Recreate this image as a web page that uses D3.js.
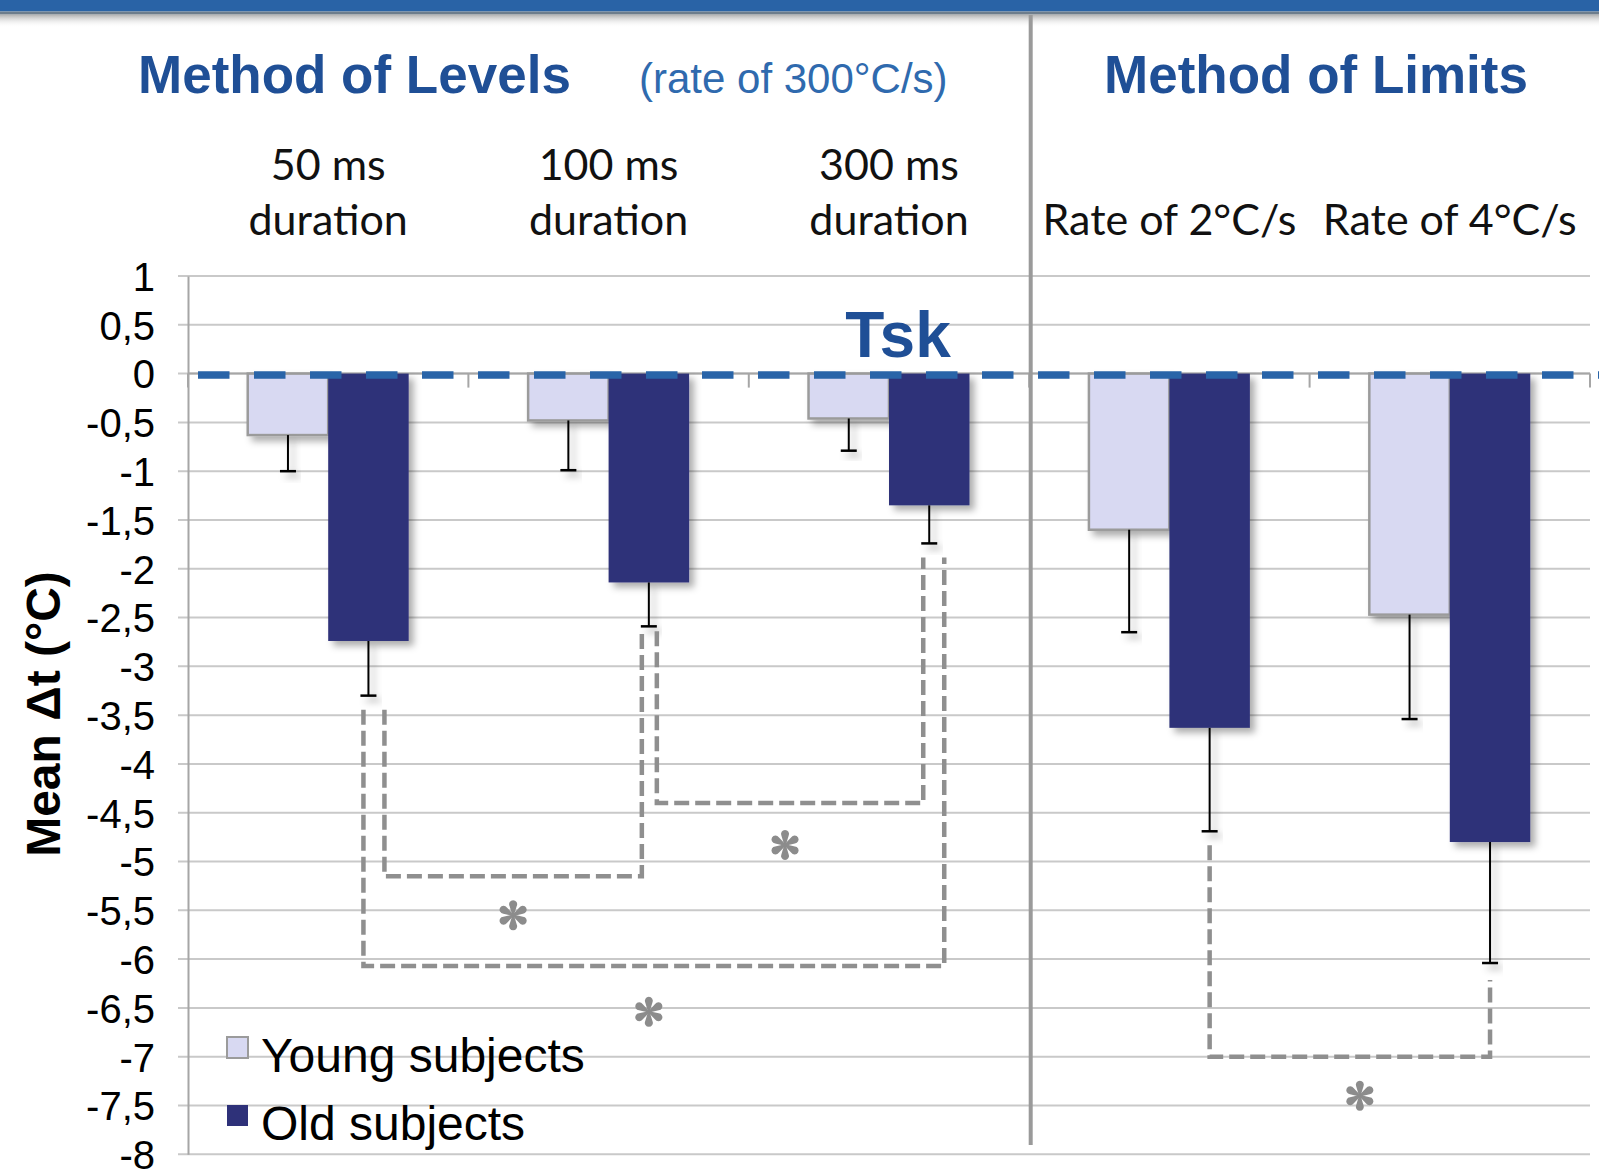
<!DOCTYPE html>
<html>
<head>
<meta charset="utf-8">
<script src="https://cdn.jsdelivr.net/npm/d3@7"></script>
<style>
  html, body { margin: 0; padding: 0; background: #fff; }
  svg { display: block; }
</style>
</head>
<body>
<svg id="chart" width="1599" height="1169"></svg>
<script>
// data
var categories = ["50 ms duration", "100 ms duration", "300 ms duration", "Rate of 2°C/s", "Rate of 4°C/s"];
var catLines = [["50 ms", "duration"], ["100 ms", "duration"], ["300 ms", "duration"], ["Rate of 2°C/s"], ["Rate of 4°C/s"]];
var series = ["Young subjects", "Old subjects"];
var youngMean = [-0.63, -0.48, -0.46, -1.60, -2.47];
var youngErr = [0.37, 0.51, 0.33, 1.05, 1.07];
var oldMean = [-2.74, -2.14, -1.35, -3.63, -4.80];
var oldErr = [0.56, 0.45, 0.39, 1.06, 1.24];
var yTicks = [1, 0.5, 0, -0.5, -1, -1.5, -2, -2.5, -3, -3.5, -4, -4.5, -5, -5.5, -6, -6.5, -7, -7.5, -8];

// significance brackets (between old-subject bars)
var sigFrom = [0, 1, 0, 3];
var sigTo = [1, 2, 2, 4];
var sigLevel = [-5.15, -4.40, -6.07, -7.0];
var starLevel = [-5.55, -4.83, -6.54, -7.40];

(function () {
  var svg = d3.select("#chart"),
    W = +svg.attr("width"),
    font = "'Liberation Sans', Arial, Helvetica, sans-serif",
    blue = "#1f4f96";

  var y = d3.scaleLinear().domain([1, -8]).range([276, 1154.3]);
  var x0 = d3.scaleBand().domain(categories).range([188, 1590]);
  var bw = x0.bandwidth();
  var x1 = d3.scaleBand().domain(series).range([bw * 0.213, bw * 0.787]);

  var defs = svg.append("defs");
  var fade = defs.append("linearGradient").attr("id", "fade")
    .attr("x1", 0).attr("y1", 0).attr("x2", 0).attr("y2", 1);
  fade.append("stop").attr("offset", "0%").attr("stop-color", "#9a9a9a").attr("stop-opacity", 0.8);
  fade.append("stop").attr("offset", "100%").attr("stop-color", "#ffffff").attr("stop-opacity", 0);

  var shadow = defs.append("filter").attr("id", "shadow")
    .attr("x", "-20%").attr("y", "-20%").attr("width", "150%").attr("height", "150%");
  shadow.append("feDropShadow").attr("dx", 5).attr("dy", 5).attr("stdDeviation", 3.5)
    .attr("flood-color", "#000").attr("flood-opacity", 0.32);

  // top banner
  svg.append("rect").attr("x", 0).attr("y", 0).attr("width", W).attr("height", 11.5).attr("fill", "#2963a6");
  svg.append("rect").attr("x", 0).attr("y", 11.5).attr("width", W).attr("height", 3).attr("fill", "#6d7d8c");
  svg.append("rect").attr("x", 0).attr("y", 14.5).attr("width", W).attr("height", 13).attr("fill", "url(#fade)");

  // gridlines
  svg.append("g").selectAll("line")
    .data(yTicks)
    .enter().append("line")
    .attr("x1", 178).attr("x2", 1590)
    .attr("y1", function (d) { return y(d); })
    .attr("y2", function (d) { return y(d); })
    .attr("stroke", "#c9c9c9").attr("stroke-width", 2);

  // y axis
  var yAxis = d3.axisLeft(y)
    .tickValues(yTicks)
    .tickSize(0)
    .tickPadding(33)
    .tickFormat(function (d) { return String(d).replace(".", ","); });
  var gy = svg.append("g").attr("transform", "translate(188,0)").call(yAxis);
  gy.attr("font-size", 40).attr("font-family", font);
  gy.select(".domain").attr("stroke", "#a6a6a6").attr("stroke-width", 2);
  gy.selectAll("text").attr("fill", "#000").attr("dy", "0.36em");

  // zero axis with category boundary ticks
  var x0Axis = svg.append("g");
  x0Axis.append("line")
    .attr("x1", 188).attr("x2", 1590)
    .attr("y1", y(0)).attr("y2", y(0))
    .attr("stroke", "#a6a6a6").attr("stroke-width", 2);
  var bounds = categories.map(function (c) { return x0(c); }).concat([x0.range()[1]]);
  x0Axis.selectAll(".tk")
    .data(bounds)
    .enter().append("line")
    .attr("class", "tk")
    .attr("x1", function (d) { return d; }).attr("x2", function (d) { return d; })
    .attr("y1", y(0)).attr("y2", y(0) + 14)
    .attr("stroke", "#a6a6a6").attr("stroke-width", 2);

  // bars
  var rows = categories.map(function (c, i) {
    return {
      cat: c,
      bars: [
        { s: series[0], v: youngMean[i], e: youngErr[i] },
        { s: series[1], v: oldMean[i], e: oldErr[i] }
      ]
    };
  });

  var groups = svg.append("g").selectAll("g")
    .data(rows)
    .enter().append("g")
    .attr("transform", function (d) { return "translate(" + x0(d.cat) + ",0)"; });

  groups.selectAll("rect")
    .data(function (d) { return d.bars; })
    .enter().append("rect")
    .attr("x", function (d) { return x1(d.s); })
    .attr("y", y(0))
    .attr("width", x1.bandwidth())
    .attr("height", function (d) { return y(d.v) - y(0); })
    .attr("fill", function (d) { return d.s === series[0] ? "#d8d9f2" : "#2e3179"; })
    .attr("stroke", function (d) { return d.s === series[0] ? "#9b9b9b" : "none"; })
    .attr("stroke-width", 2.5)
    .attr("filter", "url(#shadow)");

  // error bars
  var eb = groups.selectAll(".err")
    .data(function (d) { return d.bars; })
    .enter().append("g")
    .attr("class", "err")
    .attr("filter", "url(#shadow)");
  eb.append("line")
    .attr("x1", function (d) { return x1(d.s) + x1.bandwidth() / 2; })
    .attr("x2", function (d) { return x1(d.s) + x1.bandwidth() / 2; })
    .attr("y1", function (d) { return y(d.v); })
    .attr("y2", function (d) { return y(d.v - d.e); })
    .attr("stroke", "#000").attr("stroke-width", 2);
  eb.append("line")
    .attr("x1", function (d) { return x1(d.s) + x1.bandwidth() / 2 - 8; })
    .attr("x2", function (d) { return x1(d.s) + x1.bandwidth() / 2 + 8; })
    .attr("y1", function (d) { return y(d.v - d.e); })
    .attr("y2", function (d) { return y(d.v - d.e); })
    .attr("stroke", "#000").attr("stroke-width", 2.5);

  // significance brackets
  var oldX = function (i) { return x0(categories[i]) + x1(series[1]) + x1.bandwidth() / 2; };
  var oldErrEnd = function (i) { return y(oldMean[i] - oldErr[i]); };
  var endGap = [14, 5, 14, 14, 17];
  var nudge = [[16, -7], [8, -6], [-5, 15], [0, 0]];
  var starNudge = [0, -5, -5, 10];

  var brackets = sigFrom.map(function (f, k) {
    return {
      xa: oldX(f) + nudge[k][0],
      xb: oldX(sigTo[k]) + nudge[k][1],
      ya: oldErrEnd(f) + endGap[f],
      yb: oldErrEnd(sigTo[k]) + endGap[sigTo[k]],
      lvl: y(sigLevel[k]),
      sy: y(starLevel[k]),
      k: k
    };
  });

  svg.append("g").selectAll("path")
    .data(brackets)
    .enter().append("path")
    .attr("d", function (d) {
      return "M" + d.xa + "," + d.ya + "V" + d.lvl + "H" + d.xb + "V" + d.yb;
    })
    .attr("fill", "none")
    .attr("stroke", "#8f8f8f")
    .attr("stroke-width", 4.5)
    .attr("stroke-dasharray", "15,6");

  // asterisks: six teardrop petals
  var petal = "M-0.8,0L-3.6,-9.3A4,4 0 1,1 3.6,-9.3L0.8,0Z";
  var stars = svg.append("g").selectAll("g")
    .data(brackets)
    .enter().append("g")
    .attr("transform", function (d) {
      return "translate(" + ((d.xa + d.xb) / 2 + starNudge[d.k]) + "," + d.sy + ")";
    });
  stars.append("circle").attr("r", 2).attr("fill", "#8c8c8c");
  stars.selectAll("path")
    .data([0, 60, 120, 180, 240, 300])
    .enter().append("path")
    .attr("d", petal)
    .attr("transform", function (a) { return "rotate(" + a + ")"; })
    .attr("fill", "#8c8c8c");

  // Tsk reference line
  svg.append("line")
    .attr("x1", 198).attr("x2", W)
    .attr("y1", y(0) + 1.5).attr("y2", y(0) + 1.5)
    .attr("stroke", "#2964a8")
    .attr("stroke-width", 7.5)
    .attr("stroke-dasharray", "31.5,24.5");

  svg.append("text")
    .attr("x", 898).attr("y", 357)
    .attr("text-anchor", "middle")
    .attr("font-family", font).attr("font-weight", "bold").attr("font-size", 64)
    .attr("fill", blue)
    .text("Tsk");

  // separator between the two methods
  var sepX = x0(categories[3]) + 1.5;
  svg.append("line")
    .attr("x1", sepX).attr("x2", sepX)
    .attr("y1", 15).attr("y2", 1145)
    .attr("stroke", "#9a9a9a").attr("stroke-width", 4);

  // titles
  svg.append("text")
    .attr("x", 138).attr("y", 93)
    .attr("font-family", font).attr("font-weight", "bold").attr("font-size", 53)
    .attr("fill", blue)
    .text("Method of Levels");
  svg.append("text")
    .attr("x", 639).attr("y", 93)
    .attr("font-family", font).attr("font-size", 42)
    .attr("fill", "#2f6aae")
    .text("(rate of 300°C/s)");
  svg.append("text")
    .attr("x", 1316).attr("y", 93)
    .attr("text-anchor", "middle")
    .attr("font-family", font).attr("font-weight", "bold").attr("font-size", 53)
    .attr("fill", blue)
    .text("Method of Limits");

  // category labels
  svg.append("g").selectAll("text")
    .data(categories)
    .enter().append("text")
    .attr("x", function (d) { return x0(d) + bw / 2; })
    .attr("text-anchor", "middle")
    .attr("font-family", "Lato, 'Open Sans', sans-serif")
    .attr("font-size", 43)
    .attr("fill", "#111")
    .each(function (d, i) {
      var lines = catLines[i];
      var base = 235 - (lines.length - 1) * 55;
      d3.select(this).selectAll("tspan")
        .data(lines)
        .enter().append("tspan")
        .attr("x", x0(d) + bw / 2)
        .attr("y", function (l, j) { return base + j * 55; })
        .text(function (l) { return l; });
    });

  // y axis title
  svg.append("text")
    .attr("transform", "translate(60,714) rotate(-90)")
    .attr("text-anchor", "middle")
    .attr("font-family", font).attr("font-weight", "bold").attr("font-size", 48)
    .attr("fill", "#000")
    .text("Mean Δt (°C)");

  // legend
  var legend = svg.append("g").selectAll("g")
    .data(series)
    .enter().append("g")
    .attr("transform", function (d, i) { return "translate(227," + (1037 + i * 68) + ")"; });
  legend.append("rect")
    .attr("width", 21).attr("height", 21)
    .attr("fill", function (d, i) { return i === 0 ? "#d8d9f2" : "#2e3179"; })
    .attr("stroke", function (d, i) { return i === 0 ? "#9b9b9b" : "none"; })
    .attr("stroke-width", 2);
  legend.append("text")
    .attr("x", 34).attr("y", 35)
    .attr("font-family", font).attr("font-size", 48)
    .attr("fill", "#000")
    .text(function (d) { return d; });
})();
</script>
</body>
</html>
